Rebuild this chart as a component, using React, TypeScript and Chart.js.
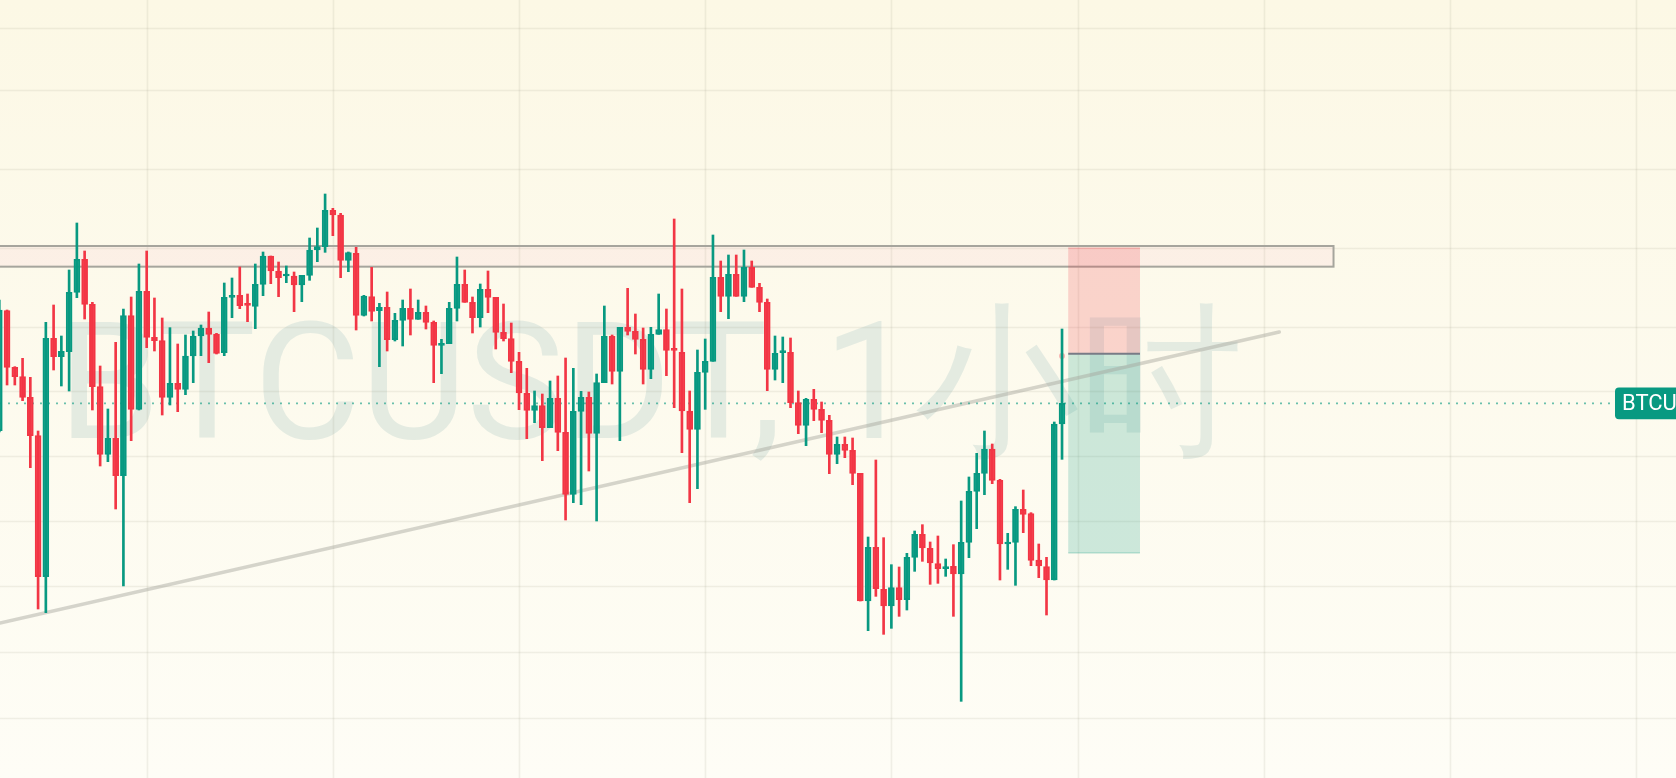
import React, { useEffect, useRef } from "react";
import { Chart, registerables } from "chart.js";

Chart.register(...registerables);

// ---- data (BTCUSDT, 1h candles) ----
const opens = [
  99278, 99638, 99468, 99440, 99378, 99263, 98840, 99555, 99500, 99515,
  99693, 99792, 99657, 99410, 99207, 99255, 99143, 99623, 99342, 99696,
  99558, 99548, 99378, 99420, 99402, 99502, 99562, 99586, 99568, 99512,
  99678, 99684, 99657, 99651, 99717, 99802, 99757, 99742, 99742, 99715,
  99744, 99820, 99830, 99939, 99925, 99789, 99810, 99624, 99680, 99638,
  99648, 99551, 99609, 99645, 99612, 99633, 99603, 99534, 99539, 99645,
  99717, 99663, 99617, 99702, 99678, 99573, 99554, 99486, 99390, 99339,
  99353, 99287, 99375, 99273, 99087, 99336, 99378, 99270, 99422, 99562,
  99456, 99588, 99576, 99552, 99462, 99567, 99581, 99521, 99513, 99337,
  99282, 99453, 99486, 99738, 99681, 99747, 99681, 99768, 99708, 99663,
  99462, 99512, 99513, 99362, 99294, 99372, 99342, 99309, 99207, 99237,
  99219, 99150, 98767, 98928, 98802, 98752, 98807, 98771, 98898, 98967,
  98925, 98879, 98864, 98871, 98848, 98943, 99096, 99150, 99223, 99129,
  98938, 98943, 99042, 99029, 98890, 98870, 98830, 99298,
];
const highs = [
  99670, 99640, 99470, 99495, 99438, 99277, 99603, 99655, 99562, 99760,
  99901, 99817, 99663, 99472, 99343, 99543, 99643, 99679, 99778, 99817,
  99676, 99616, 99587, 99538, 99565, 99577, 99595, 99634, 99570, 99721,
  99736, 99769, 99688, 99778, 99814, 99802, 99784, 99772, 99754, 99744,
  99856, 99886, 99988, 99945, 99930, 99814, 99828, 99684, 99768, 99660,
  99694, 99630, 99670, 99703, 99670, 99652, 99607, 99552, 99663, 99799,
  99760, 99679, 99718, 99757, 99678, 99658, 99601, 99513, 99465, 99397,
  99388, 99427, 99442, 99496, 99465, 99396, 99394, 99448, 99652, 99565,
  99588, 99705, 99628, 99586, 99588, 99688, 99643, 99913, 99703, 99397,
  99520, 99553, 99865, 99787, 99805, 99805, 99820, 99787, 99720, 99673,
  99562, 99559, 99556, 99397, 99375, 99402, 99364, 99324, 99259, 99259,
  99256, 99150, 98959, 99190, 98957, 98876, 98869, 98910, 98977, 98996,
  98944, 98962, 98893, 98936, 99067, 99139, 99210, 99277, 99238, 99132,
  98970, 99050, 99100, 99032, 98938, 98898, 99304, 99583,
];
const lows = [
  99274, 99415, 99415, 99368, 99167, 98743, 98732, 99460, 99412, 99397,
  99677, 99613, 99340, 99172, 99185, 99043, 98812, 99248, 99340, 99527,
  99517, 99325, 99355, 99335, 99386, 99422, 99503, 99482, 99508, 99503,
  99617, 99644, 99605, 99584, 99683, 99719, 99680, 99722, 99635, 99665,
  99729, 99785, 99813, 99863, 99737, 99755, 99580, 99622, 99607, 99470,
  99517, 99547, 99532, 99565, 99612, 99583, 99422, 99449, 99539, 99607,
  99663, 99571, 99589, 99632, 99523, 99547, 99452, 99341, 99254, 99302,
  99188, 99287, 99218, 99010, 99062, 99056, 99157, 99007, 99422, 99418,
  99248, 99565, 99508, 99418, 99434, 99567, 99443, 99347, 99212, 99062,
  99104, 99342, 99486, 99635, 99614, 99681, 99665, 99708, 99635, 99398,
  99430, 99422, 99347, 99269, 99233, 99308, 99272, 99149, 99179, 99197,
  99116, 98767, 98678, 98781, 98667, 98685, 98721, 98740, 98856, 98886,
  98817, 98820, 98841, 98721, 98466, 98897, 98984, 99086, 99119, 98830,
  98862, 98814, 98972, 98873, 98837, 98725, 98830, 99192,
];
const closes = [
  99640, 99468, 99440, 99378, 99263, 98840, 99555, 99500, 99516, 99693,
  99792, 99657, 99410, 99207, 99255, 99143, 99623, 99342, 99696, 99558,
  99548, 99378, 99420, 99402, 99502, 99562, 99586, 99567, 99510, 99678,
  99684, 99653, 99654, 99717, 99802, 99757, 99737, 99744, 99715, 99744,
  99820, 99830, 99939, 99925, 99789, 99812, 99624, 99682, 99636, 99648,
  99551, 99609, 99645, 99612, 99633, 99603, 99534, 99540, 99645, 99717,
  99663, 99617, 99702, 99678, 99573, 99554, 99486, 99391, 99339, 99353,
  99287, 99375, 99273, 99087, 99336, 99378, 99270, 99422, 99562, 99456,
  99588, 99576, 99552, 99462, 99567, 99581, 99519, 99519, 99337, 99282,
  99453, 99486, 99738, 99681, 99747, 99681, 99768, 99708, 99663, 99462,
  99510, 99516, 99362, 99294, 99372, 99342, 99309, 99207, 99237, 99219,
  99150, 98767, 98928, 98804, 98752, 98807, 98771, 98898, 98967, 98926,
  98881, 98864, 98870, 98848, 98943, 99096, 99150, 99223, 99129, 98938,
  98943, 99042, 99027, 98889, 98872, 98830, 99298, 99360,
];

// horizontal grid price levels and vertical grid bar indices (day boundaries)
const gridPrices = [100485, 100299, 100064, 99827, 99590, 99397, 99203, 99008, 98813, 98615, 98417];
const gridBars = [19, 43, 67, 91, 115, 139, 163, 187, 211];

// visible range
const xRange = [0.09, 216.15];
const yRange = [98236, 100570];

// resistance zone
const zonePrices = [99832, 99770];
const zoneBars = [0, 172];

// short position tool: stop, entry, target
const positionBars = [137.8, 147.05];
const positionPrices = [99827, 99509, 98910];
const positionMarker = [137, 99502];

// trend line
const trendBars = [0.09, 165.0];
const trendPrices = [98701, 99574];

const symbol = "BTCUSDT";
const watermark = "BTCUSDT, 1小时";

const UP = "#089981";
const DOWN = "#F23645";
const UP_FILL = "rgba(8,153,129,0.8)";
const DOWN_FILL = "rgba(242,54,69,0.8)";

const overlayPlugin = {
  id: "tvOverlay",
  beforeDatasetsDraw(chart: any) {
    const { ctx, width, height } = chart;
    const xs = chart.scales.x;
    const ys = chart.scales.y;
    ctx.save();
    // background
    const g = ctx.createLinearGradient(0, 0, 0, height);
    g.addColorStop(0, "#FCF8E5");
    g.addColorStop(1, "#FEFDF6");
    ctx.fillStyle = g;
    ctx.fillRect(0, 0, width, height);

    // watermark
    ctx.font = "164px Roboto";
    ctx.fillStyle = "#E4EBE1";
    ctx.textBaseline = "alphabetic";
    ctx.textAlign = "left";
    ctx.fillText(watermark, 58, 438);

    // grid
    ctx.strokeStyle = "rgba(150,145,120,0.13)";
    ctx.lineWidth = 1.6;
    for (const p of gridPrices) {
      const py = Math.round(ys.getPixelForValue(p)) + 0.5;
      ctx.beginPath();
      ctx.moveTo(0, py);
      ctx.lineTo(width, py);
      ctx.stroke();
    }
    for (const b of gridBars) {
      const px = Math.round(xs.getPixelForValue(b)) + 0.5;
      ctx.beginPath();
      ctx.moveTo(px, 0);
      ctx.lineTo(px, height);
      ctx.stroke();
    }

    // zone
    const zx0 = xs.getPixelForValue(zoneBars[0]) - 2;
    const zx1 = xs.getPixelForValue(zoneBars[1]);
    const zy0 = ys.getPixelForValue(zonePrices[0]);
    const zy1 = ys.getPixelForValue(zonePrices[1]);
    ctx.fillStyle = "rgba(245,165,190,0.11)";
    ctx.fillRect(zx0, zy0, zx1 - zx0, zy1 - zy0);
    ctx.strokeStyle = "#A6A59D";
    ctx.lineWidth = 2;
    ctx.strokeRect(zx0, zy0, zx1 - zx0, zy1 - zy0);

    // position tool
    const px0 = xs.getPixelForValue(positionBars[0]);
    const px1 = xs.getPixelForValue(positionBars[1]);
    const pStop = ys.getPixelForValue(positionPrices[0]);
    const pEntry = ys.getPixelForValue(positionPrices[1]);
    const pTarget = ys.getPixelForValue(positionPrices[2]);
    ctx.fillStyle = "rgba(242,54,69,0.2)";
    ctx.fillRect(px0, pStop, px1 - px0, pEntry - pStop);
    ctx.fillStyle = "rgba(8,153,129,0.2)";
    ctx.fillRect(px0, pEntry, px1 - px0, pTarget - pEntry);
    ctx.lineWidth = 1;
    ctx.strokeStyle = "rgba(242,54,69,0.25)";
    ctx.beginPath();
    ctx.moveTo(px0, pStop + 0.5);
    ctx.lineTo(px1, pStop + 0.5);
    ctx.stroke();
    ctx.strokeStyle = "rgba(8,153,129,0.25)";
    ctx.beginPath();
    ctx.moveTo(px0, pTarget - 0.5);
    ctx.lineTo(px1, pTarget - 0.5);
    ctx.stroke();
    ctx.strokeStyle = "#787B86";
    ctx.lineWidth = 2;
    ctx.beginPath();
    ctx.moveTo(px0, pEntry);
    ctx.lineTo(px1, pEntry);
    ctx.stroke();
    ctx.fillStyle = "rgba(242,54,69,0.35)";
    ctx.beginPath();
    ctx.arc(xs.getPixelForValue(positionMarker[0]), ys.getPixelForValue(positionMarker[1]), 3, 0, Math.PI * 2);
    ctx.fill();

    // trend line
    ctx.strokeStyle = "rgba(165,163,155,0.45)";
    ctx.lineWidth = 3.5;
    ctx.lineCap = "round";
    ctx.beginPath();
    ctx.moveTo(xs.getPixelForValue(trendBars[0]), ys.getPixelForValue(trendPrices[0]));
    ctx.lineTo(xs.getPixelForValue(trendBars[1]), ys.getPixelForValue(trendPrices[1]));
    ctx.stroke();

    // last price dotted line
    const last = closes[closes.length - 1];
    const ly = ys.getPixelForValue(last);
    ctx.strokeStyle = "rgba(8,153,129,0.6)";
    ctx.lineWidth = 1.8;
    ctx.lineCap = "butt";
    ctx.setLineDash([2, 6]);
    ctx.beginPath();
    ctx.moveTo(0, ly);
    ctx.lineTo(1614, ly);
    ctx.stroke();
    ctx.setLineDash([]);
    ctx.restore();
  },
  afterDatasetsDraw(chart: any) {
    const { ctx } = chart;
    const ys = chart.scales.y;
    const last = closes[closes.length - 1];
    const ly = ys.getPixelForValue(last);
    ctx.save();
    const lx = 1615;
    const h = 31.6;
    const top = ly - h / 2;
    const r = 4;
    ctx.fillStyle = UP;
    ctx.beginPath();
    ctx.moveTo(lx + r, top);
    ctx.lineTo(lx + 120, top);
    ctx.lineTo(lx + 120, top + h);
    ctx.lineTo(lx + r, top + h);
    ctx.arcTo(lx, top + h, lx, top + h - r, r);
    ctx.lineTo(lx, top + r);
    ctx.arcTo(lx, top, lx + r, top, r);
    ctx.closePath();
    ctx.fill();
    ctx.fillStyle = "#FFFFFF";
    ctx.font = "22px Roboto";
    ctx.textBaseline = "middle";
    ctx.textAlign = "left";
    ctx.fillText(symbol, 1622, ly + 1);
    ctx.restore();
  },
};

export default function App() {
  const canvasRef = useRef<HTMLCanvasElement | null>(null);

  useEffect(() => {
    document.body.style.margin = "0";
    const canvas = canvasRef.current;
    if (!canvas) return;
    const idx = opens.map((_, i) => i);
    const isUp = idx.map((i) => closes[i] >= opens[i]);
    const chart = new Chart(canvas, {
      type: "bar",
      data: {
        datasets: [
          {
            label: "body",
            data: idx.map((i) => ({ x: i, y: [opens[i], closes[i]] })) as any,
            backgroundColor: isUp.map((u) => (u ? UP_FILL : DOWN_FILL)),
            borderColor: isUp.map((u) => (u ? UP : DOWN)),
            borderWidth: 1.3,
            borderSkipped: false,
            barThickness: 6,
            minBarLength: 2,
            grouped: false,
            order: 1,
          } as any,
          {
            label: "wick",
            data: idx.map((i) => ({ x: i, y: [lows[i], highs[i]] })) as any,
            backgroundColor: isUp.map((u) => (u ? UP : DOWN)),
            borderWidth: 0,
            barThickness: 2,
            grouped: false,
            order: 2,
          } as any,
        ],
      },
      options: {
        responsive: false,
        animation: false,
        devicePixelRatio: 1,
        layout: { padding: 0 },
        plugins: { legend: { display: false }, tooltip: { enabled: false } },
        scales: {
          x: { type: "linear", min: xRange[0], max: xRange[1], display: false, offset: false },
          y: { type: "linear", min: yRange[0], max: yRange[1], display: false },
        },
      } as any,
      plugins: [overlayPlugin],
    });
    return () => chart.destroy();
  }, []);

  return (
    <div style={{ position: "fixed", left: 0, top: 0, width: 1676, height: 778, overflow: "hidden" }}>
      <canvas ref={canvasRef} width={1676} height={778} style={{ display: "block" }} />
    </div>
  );
}
